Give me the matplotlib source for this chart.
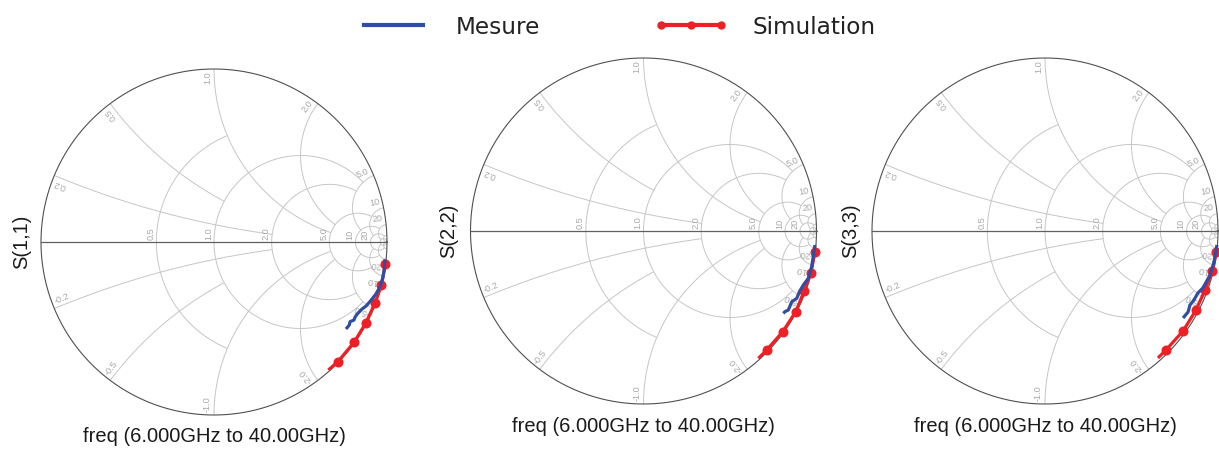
import numpy as np
import matplotlib
matplotlib.use("Agg")
import matplotlib.pyplot as plt
from matplotlib.lines import Line2D

# ---------------- data (reflection coefficients) -------------
titles = ["S(1,1)", "S(2,2)", "S(3,3)"]
freq_label = "freq (6.000GHz to 40.00GHz)"
legend_labels = ["Mesure", "Simulation"]

s11_meas_re = [0.988, 0.984, 0.975, 0.960, 0.936, 0.906, 0.879, 0.854, 0.828, 0.815, 0.809, 0.786, 0.782, 0.763]
s11_meas_im = [-0.100, -0.162, -0.210, -0.258, -0.301, -0.339, -0.370, -0.389, -0.416, -0.435, -0.451, -0.461, -0.480, -0.503]
s11_sim_re = [0.990, 0.968, 0.932, 0.877, 0.810, 0.717, 0.661]
s11_sim_im = [-0.130, -0.248, -0.350, -0.469, -0.579, -0.691, -0.740]

s22_meas_re = [0.991, 0.981, 0.972, 0.953, 0.924, 0.901, 0.886, 0.857, 0.837, 0.818, 0.808]
s22_meas_im = [-0.081, -0.149, -0.206, -0.273, -0.312, -0.351, -0.389, -0.409, -0.457, -0.466, -0.476]
s22_sim_re = [0.991, 0.968, 0.929, 0.880, 0.805, 0.712, 0.664]
s22_sim_im = [-0.121, -0.241, -0.347, -0.466, -0.582, -0.688, -0.736]

s33_meas_re = [0.994, 0.977, 0.954, 0.913, 0.884, 0.861, 0.838, 0.827, 0.798]
s33_meas_im = [-0.081, -0.179, -0.254, -0.329, -0.358, -0.399, -0.428, -0.468, -0.503]
s33_sim_re = [0.990, 0.968, 0.925, 0.873, 0.798, 0.699, 0.653]
s33_sim_im = [-0.121, -0.231, -0.341, -0.457, -0.578, -0.688, -0.734]

meas_re = [s11_meas_re, s22_meas_re, s33_meas_re]
meas_im = [s11_meas_im, s22_meas_im, s33_meas_im]
sim_re = [s11_sim_re, s22_sim_re, s33_sim_re]
sim_im = [s11_sim_im, s22_sim_im, s33_sim_im]

# Smith grid values and where each line stops
R_VALUES = [0.5, 1, 2, 5, 10, 20, 50]
R_LIMITS = [1, 5, 5, 10, 20, 50, np.inf]
X_VALUES = [0.2, 0.5, 1, 2, 5, 10, 20, 50]
X_LIMITS = [2, 1, 5, 5, 10, 20, 50, np.inf]
R_LABELS = ["0.5", "1.0", "2.0", "5.0", "10", "20"]
X_LABELS = ["0.2", "0.5", "1.0", "2.0", "5.0", "10", "20"]

# ---------------- layout (pixels) ----------------
W, H = 1219, 449
centers = [(214, 242), (643.5, 231), (1045, 231)]
RAD = 173.0
ylabel_x = [22, 449, 851]
xlabel_y = [437, 426, 426]

BLUE = "#2f4ea3"
RED = "#ee2026"
GRID = "#c6c6c6"
LBL = "#a8a8a8"

fig = plt.figure(figsize=(W / 100, H / 100), dpi=100)


def gamma(z):
    return (z - 1) / (z + 1)


def draw_smith(ax):
    gk = dict(color=GRID, lw=0.7, zorder=1, solid_capstyle="butt")
    for r, xm in zip(R_VALUES, R_LIMITS):
        um = np.arctan(xm) if np.isfinite(xm) else np.pi / 2 - 1e-5
        u = np.linspace(-um, um, 1200)
        g = gamma(r + 1j * np.tan(u))
        ax.plot(g.real, g.imag, **gk)
    for x, rm in zip(X_VALUES, X_LIMITS):
        um = np.arctan(rm) if np.isfinite(rm) else np.pi / 2 - 1e-5
        u = np.linspace(0, um, 900)
        for s in (1, -1):
            g = gamma(np.tan(u) + 1j * s * x)
            ax.plot(g.real, g.imag, **gk)
    t = np.linspace(0, 2 * np.pi, 1441)
    ax.plot(np.cos(t), np.sin(t), color="#505050", lw=0.8, zorder=2)
    ax.plot([-1, 1], [0, 0], color="#606060", lw=0.9, zorder=2)
    lk = dict(color=LBL, fontsize=6.6, family="Liberation Sans", rotation_mode="anchor", zorder=3)
    for r, lab in zip(R_VALUES, R_LABELS):
        g = gamma(r)
        ax.text(g - 0.006, 0.012, lab, rotation=90, ha="left", va="bottom", **lk)
    d = 0.012
    for x, lab in zip(X_VALUES, X_LABELS):
        th = np.pi - 2 * np.arctan(x)
        rr = 0.985
        a = th + d
        ax.text(rr * np.cos(a), rr * np.sin(a), lab, rotation=np.degrees(th), ha="right", va="bottom", **lk)
        a = -th - d
        ax.text(rr * np.cos(a), rr * np.sin(a), "-" + lab, rotation=180 - np.degrees(th), ha="left", va="bottom", **lk)


pad = 1.03
for i in range(3):
    cx, cy = centers[i]
    half = RAD * pad
    ax = fig.add_axes([(cx - half) / W, (H - cy - half) / H, 2 * half / W, 2 * half / H])
    ax.set_xlim(-pad, pad)
    ax.set_ylim(-pad, pad)
    ax.axis("off")
    draw_smith(ax)
    ax.plot(meas_re[i], meas_im[i], color=BLUE, lw=2.3, zorder=5, solid_capstyle="butt")
    n = len(sim_re[i])
    ax.plot(sim_re[i], sim_im[i], color=RED, lw=2.3, marker="o", ms=6.2, markevery=list(range(n - 1)), zorder=4,
            solid_capstyle="butt")
    fig.text(ylabel_x[i] / W, 1 - cy / H, titles[i], rotation=90, ha="center", va="center",
             fontsize=14.5, family="Liberation Sans", color="#1a1a1a")
    fig.text(cx / W, 1 - xlabel_y[i] / H, freq_label, ha="center", va="center",
             fontsize=14.5, family="Liberation Sans", color="#1a1a1a")

handles = [Line2D([], [], color=BLUE, lw=3.0),
           Line2D([], [], color=RED, lw=3.0, marker="o", ms=5)]
fig.legend(handles, legend_labels, loc="center", bbox_to_anchor=(616.5 / W, 1 - 27 / H), ncol=2, frameon=False,
           fontsize=16.7, handlelength=3.15, handletextpad=1.08, columnspacing=4.95, numpoints=3,
           labelcolor="#222222")

fig.savefig("out.png", dpi=100)
